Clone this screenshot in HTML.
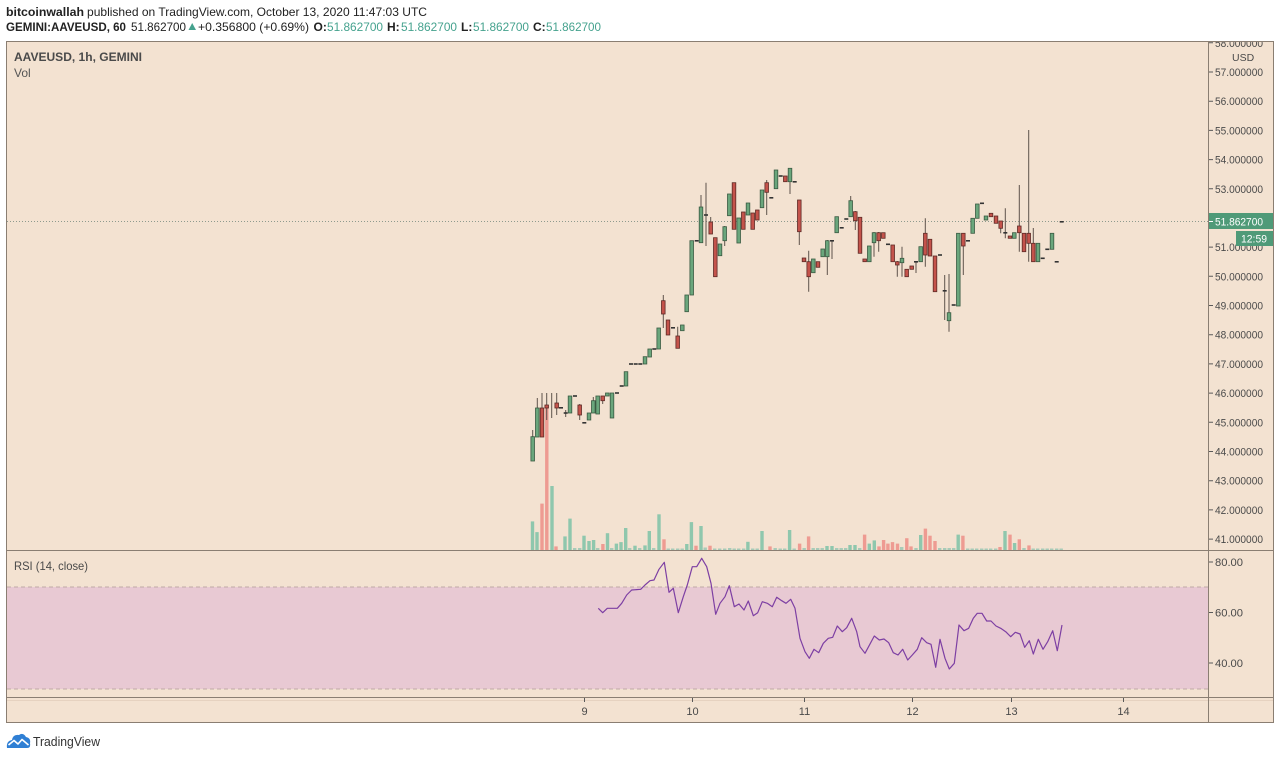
<!DOCTYPE html>
<html><head><meta charset="utf-8">
<style>
html,body{margin:0;padding:0;background:#fff;width:1280px;height:758px;overflow:hidden}
svg{display:block;font-family:"Liberation Sans",Arial,sans-serif}
</style></head>
<body>
<svg width="1280" height="758" viewBox="0 0 1280 758" xmlns="http://www.w3.org/2000/svg">
<rect x="0" y="0" width="1280" height="758" fill="#ffffff"/>
<!-- header -->
<text x="6" y="16" font-size="12" font-weight="bold" fill="#222" textLength="78" lengthAdjust="spacingAndGlyphs">bitcoinwallah</text>
<text x="87" y="16" font-size="12" fill="#222" textLength="340" lengthAdjust="spacingAndGlyphs">published on TradingView.com, October 13, 2020 11:47:03 UTC</text>
<text x="6" y="31" font-size="12" font-weight="bold" fill="#222" textLength="120" lengthAdjust="spacingAndGlyphs">GEMINI:AAVEUSD, 60</text>
<text x="131" y="31" font-size="12" fill="#222" textLength="55" lengthAdjust="spacingAndGlyphs">51.862700</text>
<polygon points="188.5,30 196,30 192.2,23" fill="#45a28e"/>
<text x="198" y="31" font-size="12" fill="#222" textLength="111" lengthAdjust="spacingAndGlyphs">+0.356800 (+0.69%)</text>
<text x="313.5" y="31" font-size="12" font-weight="bold" fill="#222">O:</text>
<text x="327" y="31" font-size="12" fill="#45a28e" textLength="56" lengthAdjust="spacingAndGlyphs">51.862700</text>
<text x="387" y="31" font-size="12" font-weight="bold" fill="#222">H:</text>
<text x="401" y="31" font-size="12" fill="#45a28e" textLength="56" lengthAdjust="spacingAndGlyphs">51.862700</text>
<text x="461" y="31" font-size="12" font-weight="bold" fill="#222">L:</text>
<text x="473" y="31" font-size="12" fill="#45a28e" textLength="56" lengthAdjust="spacingAndGlyphs">51.862700</text>
<text x="533" y="31" font-size="12" font-weight="bold" fill="#222">C:</text>
<text x="546" y="31" font-size="12" fill="#45a28e" textLength="55" lengthAdjust="spacingAndGlyphs">51.862700</text>

<!-- chart background -->
<rect x="6.5" y="41.5" width="1267" height="681" fill="#f3e2d1" stroke="#8a7e72" stroke-width="1"/>
<!-- RSI band -->
<rect x="7" y="587" width="1201" height="102" fill="#e8c9d3"/>
<line x1="7" y1="587" x2="1208" y2="587" stroke="#bfa9a6" stroke-width="1" stroke-dasharray="4,3"/>
<line x1="7" y1="689" x2="1208" y2="689" stroke="#bfa9a6" stroke-width="1" stroke-dasharray="4,3"/>
<!-- pane lines -->
<line x1="6" y1="550.5" x2="1274" y2="550.5" stroke="#8a7e72" stroke-width="1"/>
<line x1="6" y1="697.5" x2="1274" y2="697.5" stroke="#8a7e72" stroke-width="1"/>
<line x1="7" y1="700.5" x2="1273" y2="700.5" stroke="#e6d2c0" stroke-width="1"/>
<line x1="1208.5" y1="41" x2="1208.5" y2="723" stroke="#8a7e72" stroke-width="1"/>

<!-- legends -->
<text x="14" y="61" font-size="12" font-weight="bold" fill="#4a4a4a" textLength="128" lengthAdjust="spacingAndGlyphs">AAVEUSD, 1h, GEMINI</text>
<text x="14" y="77" font-size="12" fill="#555">Vol</text>
<text x="14" y="570" font-size="12" fill="#4a4a4a" textLength="74" lengthAdjust="spacingAndGlyphs">RSI (14, close)</text>

<!-- volume -->
<g fill="#8fc7ad">
<rect x="530.8" y="521.4" width="3.4" height="28.6"/>
<rect x="535.3" y="532.1" width="3.4" height="17.9"/>
<rect x="550.3" y="486" width="3.4" height="64"/>
<rect x="563.3" y="536.4" width="3.4" height="13.6"/>
<rect x="568.3" y="518.6" width="3.4" height="31.4"/>
<rect x="582.3" y="535.7" width="3.4" height="14.3"/>
<rect x="587.3" y="541" width="3.4" height="9"/>
<rect x="591.9" y="540" width="3.4" height="10"/>
<rect x="605.8" y="533.2" width="3.4" height="16.8"/>
<rect x="614.7" y="543.6" width="3.4" height="6.4"/>
<rect x="619.3" y="542.1" width="3.4" height="7.9"/>
<rect x="624" y="528" width="3.4" height="22"/>
<rect x="633.3" y="545.7" width="3.4" height="4.3"/>
<rect x="643.3" y="545.4" width="3.4" height="4.6"/>
<rect x="647.6" y="531" width="3.4" height="19"/>
<rect x="657.3" y="514.3" width="3.4" height="35.7"/>
<rect x="685.1" y="544" width="3.4" height="6"/>
<rect x="689.7" y="522.1" width="3.4" height="27.9"/>
<rect x="699.3" y="526" width="3.4" height="24"/>
<rect x="746.2" y="541.8" width="3.4" height="8.2"/>
<rect x="760.3" y="531" width="3.4" height="19"/>
<rect x="787.9" y="530" width="3.4" height="20"/>
<rect x="825.3" y="546" width="3.4" height="4"/>
<rect x="830.3" y="546" width="3.4" height="4"/>
<rect x="848.3" y="545" width="3.4" height="5"/>
<rect x="853.3" y="545" width="3.4" height="5"/>
<rect x="867.6" y="543.6" width="3.4" height="6.4"/>
<rect x="872.6" y="540.4" width="3.4" height="9.6"/>
<rect x="919" y="535" width="3.4" height="15"/>
<rect x="956.5" y="534.6" width="3.4" height="15.4"/>
<rect x="1003.3" y="531" width="3.4" height="19"/>
<rect x="1012.9" y="543" width="3.4" height="7"/>
</g>
<g fill="#ee9b92">
<rect x="540.3" y="503.6" width="3.4" height="46.4"/>
<rect x="545.1" y="408" width="3.4" height="142"/>
<rect x="554.3" y="546.4" width="3.4" height="3.6"/>
<rect x="601.2" y="544" width="3.4" height="6"/>
<rect x="662.3" y="539.3" width="3.4" height="10.7"/>
<rect x="694.3" y="545.7" width="3.4" height="4.3"/>
<rect x="708.3" y="545.7" width="3.4" height="4.3"/>
<rect x="768.3" y="546.4" width="3.4" height="3.6"/>
<rect x="797.9" y="543.6" width="3.4" height="6.4"/>
<rect x="806.9" y="536.4" width="3.4" height="13.6"/>
<rect x="862.9" y="534.6" width="3.4" height="15.4"/>
<rect x="877.3" y="546.4" width="3.4" height="3.6"/>
<rect x="881.9" y="540" width="3.4" height="10"/>
<rect x="886.2" y="543.6" width="3.4" height="6.4"/>
<rect x="890.8" y="542.1" width="3.4" height="7.9"/>
<rect x="895.8" y="543.6" width="3.4" height="6.4"/>
<rect x="905.1" y="538.2" width="3.4" height="11.8"/>
<rect x="909.3" y="546.4" width="3.4" height="3.6"/>
<rect x="923.7" y="528.6" width="3.4" height="21.4"/>
<rect x="928.3" y="535.7" width="3.4" height="14.3"/>
<rect x="933.3" y="541" width="3.4" height="9"/>
<rect x="961.2" y="535.7" width="3.4" height="14.3"/>
<rect x="998.3" y="547" width="3.4" height="3"/>
<rect x="1008.3" y="534.6" width="3.4" height="15.4"/>
<rect x="1017.6" y="539.3" width="3.4" height="10.7"/>
<rect x="1027.3" y="545.4" width="3.4" height="4.6"/>
</g>
<!-- small baseline volume -->
<g fill="#a8cbb8">
<rect x="573" y="548" width="3.4" height="2"/><rect x="578" y="548" width="3.4" height="2"/>
<rect x="596" y="548" width="3.4" height="2"/><rect x="610" y="548" width="3.4" height="2"/>
<rect x="628" y="548" width="3.4" height="2"/><rect x="638" y="548" width="3.4" height="2"/>
<rect x="652" y="548" width="3.4" height="2"/><rect x="666.5" y="548.5" width="3.4" height="1.5"/>
<rect x="671" y="548.5" width="3.4" height="1.5"/><rect x="676" y="548.5" width="3.4" height="1.5"/>
<rect x="680.5" y="548.5" width="3.4" height="1.5"/><rect x="703.5" y="547.5" width="3.4" height="2.5"/>
<rect x="713" y="548.5" width="3.4" height="1.5"/><rect x="718" y="548.5" width="3.4" height="1.5"/>
<rect x="723" y="548.5" width="3.4" height="1.5"/><rect x="728" y="548" width="3.4" height="2"/>
<rect x="732.5" y="548.5" width="3.4" height="1.5"/><rect x="737" y="548.5" width="3.4" height="1.5"/>
<rect x="742" y="548.5" width="3.4" height="1.5"/><rect x="751" y="548.5" width="3.4" height="1.5"/>
<rect x="755.5" y="548.5" width="3.4" height="1.5"/><rect x="773.5" y="548" width="3.4" height="2"/>
<rect x="778.5" y="548.5" width="3.4" height="1.5"/><rect x="783" y="548.5" width="3.4" height="1.5"/>
<rect x="792.5" y="548.5" width="3.4" height="1.5"/><rect x="802.5" y="548" width="3.4" height="2"/>
<rect x="811.5" y="548" width="3.4" height="2"/><rect x="816" y="548" width="3.4" height="2"/>
<rect x="820.5" y="548" width="3.4" height="2"/><rect x="835" y="548" width="3.4" height="2"/>
<rect x="839.5" y="548" width="3.4" height="2"/><rect x="844" y="548" width="3.4" height="2"/>
<rect x="858" y="548" width="3.4" height="2"/><rect x="900" y="547" width="3.4" height="3"/>
<rect x="914.3" y="548" width="3.4" height="2"/><rect x="938" y="548" width="3.4" height="2"/>
<rect x="943" y="548" width="3.4" height="2"/><rect x="947.5" y="548" width="3.4" height="2"/>
<rect x="952" y="548" width="3.4" height="2"/><rect x="966" y="548.5" width="3.4" height="1.5"/>
<rect x="970.5" y="548.5" width="3.4" height="1.5"/><rect x="975" y="548.5" width="3.4" height="1.5"/>
<rect x="980" y="548.5" width="3.4" height="1.5"/><rect x="984.5" y="548.5" width="3.4" height="1.5"/>
<rect x="989" y="548.5" width="3.4" height="1.5"/><rect x="994" y="548.5" width="3.4" height="1.5"/>
<rect x="1022.3" y="548" width="3.4" height="2"/><rect x="1031.5" y="548.5" width="3.4" height="1.5"/>
<rect x="1036" y="548.5" width="3.4" height="1.5"/><rect x="1041" y="548.5" width="3.4" height="1.5"/>
<rect x="1045.5" y="548.5" width="3.4" height="1.5"/><rect x="1050" y="548.5" width="3.4" height="1.5"/>
<rect x="1055" y="548.5" width="3.4" height="1.5"/><rect x="1059.5" y="548.5" width="3.4" height="1.5"/>
</g>

<!-- current price dotted line -->
<line x1="7" y1="221.5" x2="1208" y2="221.5" stroke="#8e9a8e" stroke-width="1" stroke-dasharray="1,2"/>

<!-- wicks -->
<path stroke="#5e534b" stroke-width="1" fill="none" d="
M532.7 430V461 M537.3 398V437 M542 393V437 M546.7 393V420 M551.7 393V418 M556.7 393V415
M565.7 410V417 M579.7 404V420 M593.3 397V413 M602.7 396V404 M663.3 295V328 M677.7 326.7V348.3
M701 195V243 M706 182.7V246 M710.7 217V234 M724.7 226V246 M766.7 180V215 M790 168V194
M799.3 200V245 M808.7 250.7V291.7 M827.3 240V275 M832 240V259 M850.7 196V217 M855.3 211V230
M874 232V256.7 M878.7 232V251.7 M897.3 261V276.7 M902 246.7V276.7 M916 261V273 M925.3 218.3V266.7
M944.7 275V320 M949 274V331.7 M963.3 233V275 M1000.7 221V233.3 M1005.3 208.3V238.3
M1019.3 185V251.7 M1028.7 130V261.7 M1033.3 228V261.7"/>

<!-- green bodies -->
<g fill="#6aa67c" stroke="#3a5a42" stroke-width="0.8">
<rect x="530.9" y="436.7" width="3.6" height="24.3"/>
<rect x="535.5" y="408" width="3.6" height="29"/>
<rect x="568.2" y="396" width="3.6" height="17"/>
<rect x="587.2" y="413" width="3.6" height="7"/>
<rect x="591.5" y="400.7" width="3.6" height="12.3"/>
<rect x="595.9" y="396" width="3.6" height="18"/>
<rect x="605.5" y="393" width="3.6" height="3"/>
<rect x="610.2" y="393" width="3.6" height="25"/>
<rect x="624.2" y="371.7" width="3.6" height="14.3"/>
<rect x="643.2" y="356.7" width="3.6" height="7.3"/>
<rect x="647.9" y="349" width="3.6" height="8"/>
<rect x="656.9" y="328" width="3.6" height="21"/>
<rect x="680.5" y="325" width="3.6" height="5.7"/>
<rect x="684.9" y="295" width="3.6" height="16.7"/>
<rect x="689.9" y="240.7" width="3.6" height="54.3"/>
<rect x="699.2" y="207" width="3.6" height="35.7"/>
<rect x="718.2" y="244" width="3.6" height="11.7"/>
<rect x="722.9" y="226.7" width="3.6" height="14"/>
<rect x="727.5" y="194" width="3.6" height="21.7"/>
<rect x="736.9" y="218" width="3.6" height="25"/>
<rect x="746.2" y="203" width="3.6" height="12"/>
<rect x="760.2" y="190" width="3.6" height="17.7"/>
<rect x="774.2" y="170" width="3.6" height="18.7"/>
<rect x="788.2" y="168.3" width="3.6" height="13.4"/>
<rect x="811.5" y="259" width="3.6" height="13.7"/>
<rect x="820.9" y="249" width="3.6" height="7.7"/>
<rect x="825.5" y="240.7" width="3.6" height="16"/>
<rect x="834.9" y="216.7" width="3.6" height="16"/>
<rect x="848.9" y="200.7" width="3.6" height="16"/>
<rect x="867.5" y="246" width="3.6" height="15.7"/>
<rect x="872.2" y="232.7" width="3.6" height="10"/>
<rect x="900.2" y="258.3" width="3.6" height="4.4"/>
<rect x="918.9" y="246.7" width="3.6" height="15"/>
<rect x="947.2" y="312.7" width="3.6" height="8"/>
<rect x="956.5" y="233.3" width="3.6" height="72.7"/>
<rect x="970.9" y="218.3" width="3.6" height="15"/>
<rect x="975.5" y="204" width="3.6" height="14.3"/>
<rect x="984.2" y="216" width="3.6" height="4"/>
<rect x="1012.5" y="232.7" width="3.6" height="5.6"/>
<rect x="1036.2" y="243.3" width="3.6" height="18.4"/>
<rect x="1050.2" y="233.3" width="3.6" height="16"/>
</g>
<!-- red bodies -->
<g fill="#c4534b" stroke="#5e2b26" stroke-width="0.8">
<rect x="540.2" y="408" width="3.6" height="29"/>
<rect x="544.9" y="405" width="3.6" height="3"/>
<rect x="554.9" y="403" width="3.6" height="5"/>
<rect x="577.9" y="405" width="3.6" height="10"/>
<rect x="600.9" y="396" width="3.6" height="4.7"/>
<rect x="661.5" y="300.7" width="3.6" height="13.3"/>
<rect x="666.2" y="320" width="3.6" height="15"/>
<rect x="675.9" y="336" width="3.6" height="12.3"/>
<rect x="708.9" y="222" width="3.6" height="12"/>
<rect x="713.5" y="237.7" width="3.6" height="39"/>
<rect x="732.2" y="182.7" width="3.6" height="46.6"/>
<rect x="741.5" y="212" width="3.6" height="17.3"/>
<rect x="750.9" y="213" width="3.6" height="16.3"/>
<rect x="755.5" y="210" width="3.6" height="10"/>
<rect x="764.9" y="182.7" width="3.6" height="9.6"/>
<rect x="783.5" y="176" width="3.6" height="5.7"/>
<rect x="797.5" y="200" width="3.6" height="31.7"/>
<rect x="802.2" y="258" width="3.6" height="3.7"/>
<rect x="806.9" y="261.7" width="3.6" height="15"/>
<rect x="816.2" y="261.7" width="3.6" height="5.6"/>
<rect x="853.5" y="211.7" width="3.6" height="9"/>
<rect x="858.2" y="217.3" width="3.6" height="36"/>
<rect x="862.9" y="259" width="3.6" height="2.7"/>
<rect x="876.9" y="232.7" width="3.6" height="8"/>
<rect x="881.5" y="232.7" width="3.6" height="5.6"/>
<rect x="890.9" y="245" width="3.6" height="16.7"/>
<rect x="895.5" y="261.7" width="3.6" height="3.3"/>
<rect x="904.9" y="269.3" width="3.6" height="7.4"/>
<rect x="909.9" y="266" width="3.6" height="3.3"/>
<rect x="923.5" y="233.3" width="3.6" height="21.7"/>
<rect x="928.2" y="239.3" width="3.6" height="16.7"/>
<rect x="933.2" y="256" width="3.6" height="35.7"/>
<rect x="961.5" y="233.3" width="3.6" height="12.7"/>
<rect x="989.2" y="213.3" width="3.6" height="3.4"/>
<rect x="994.2" y="216" width="3.6" height="7.3"/>
<rect x="998.9" y="221" width="3.6" height="7.3"/>
<rect x="1008.2" y="236" width="3.6" height="2.3"/>
<rect x="1017.5" y="226" width="3.6" height="6.7"/>
<rect x="1022.2" y="233.3" width="3.6" height="18.4"/>
<rect x="1026.9" y="233.3" width="3.6" height="10"/>
<rect x="1031.5" y="243.3" width="3.6" height="18.4"/>
</g>
<!-- doji dashes -->
<g fill="#333">
<rect x="559" y="407" width="4" height="1.6"/>
<rect x="563.7" y="412.2" width="4" height="1.6"/>
<rect x="573" y="395.2" width="4" height="1.6"/>
<rect x="582.3" y="422" width="4" height="1.6"/>
<rect x="615" y="392.2" width="4" height="1.6"/>
<rect x="619.7" y="385.2" width="4" height="1.6"/>
<rect x="629" y="363.2" width="4" height="1.6"/>
<rect x="633.7" y="363.2" width="4" height="1.6"/>
<rect x="638.3" y="363.2" width="4" height="1.6"/>
<rect x="652.3" y="348.2" width="4" height="1.6"/>
<rect x="671" y="327" width="4" height="1.6"/>
<rect x="694.7" y="240" width="4" height="1.6"/>
<rect x="704" y="214.2" width="4" height="1.6"/>
<rect x="769.3" y="197" width="4" height="1.6"/>
<rect x="778.7" y="175.2" width="4" height="1.6"/>
<rect x="792.7" y="181" width="4" height="1.6"/>
<rect x="830" y="240" width="4" height="1.6"/>
<rect x="839.7" y="227" width="4" height="1.6"/>
<rect x="844.3" y="218.2" width="4" height="1.6"/>
<rect x="886" y="243.5" width="4" height="1.6"/>
<rect x="914" y="261" width="4" height="1.6"/>
<rect x="938" y="254.2" width="4" height="1.6"/>
<rect x="942.7" y="290" width="4" height="1.6"/>
<rect x="951.7" y="304.2" width="4" height="1.6"/>
<rect x="966" y="240" width="4" height="1.6"/>
<rect x="980" y="202.5" width="4" height="1.6"/>
<rect x="1003.3" y="232" width="4" height="1.6"/>
<rect x="1040.7" y="257.5" width="4" height="1.6"/>
<rect x="1045.3" y="248.5" width="4" height="1.6"/>
<rect x="1054.7" y="261" width="4" height="1.6"/>
<rect x="1059.7" y="221" width="4" height="1.6"/>
</g>

<!-- RSI line -->
<polyline fill="none" stroke="#7d3fa3" stroke-width="1.2" stroke-linejoin="round" points="
598.3,608.3 602.7,612.7 607.3,608.3 617.3,608.3 621.7,603.3 626.7,595 631.7,590 640.7,589.3 645,585 650,580.7 654,580 659,569.3 664.3,562.3 669,592.3 673.3,588.3 678.3,612.7 683.3,596.7 687.3,585 692.3,566.7 696.7,566.7 701.7,558.3 706.7,566.7 711,583.3 715.7,614.3 720,603.3 725,596.7 729.3,585.7 734.3,606.7 739,604 744,610 748.3,601 753.3,615.7 757.7,612.7 762.3,601.7 767.3,603.3 772.3,606.7 776.7,597.3 781.7,600.7 786,603.3 790.7,599.3 795,608.3 800,638.3 805,651.7 809.3,658.3 814,649.3 818.7,652.7 823.3,643.3 828.3,638.3 832.7,637.3 837.3,626 842.3,631.7 846.7,627.7 851.7,618.3 856.7,631.7 860,646.7 865,653.3 874.3,636 879.3,640 884,639 888.7,642.7 893.3,652.7 898,655 902.7,649.3 907.7,660 912.3,655 917.3,649.3 921.7,637.7 926.7,642.7 931,644.3 935.7,667.3 940,639.3 945,658.3 949.3,669 954.3,663.3 959,625 964,630.7 968.7,628.3 973.3,618.3 977.3,613.3 982,613.3 986.7,621 991,621 996,626 1000.7,628.3 1005.7,631.7 1010.7,636.7 1015.3,632.3 1020,634 1024.7,647.3 1029.3,640.7 1033.3,654 1038.3,639.3 1043,649.3 1047.7,641.7 1052.7,630.7 1057.3,650.7 1062,625"/>

<!-- price axis -->
<defs><clipPath id="ax"><rect x="1209" y="42" width="64" height="508"/></clipPath></defs>
<g clip-path="url(#ax)" font-size="11" fill="#4a4a4a">
<path stroke="#5a5a5a" stroke-width="1" d="M1209 42.8H1213 M1209 72H1213 M1209 101.2H1213 M1209 130.4H1213 M1209 159.6H1213 M1209 188.8H1213 M1209 247.1H1213 M1209 276.3H1213 M1209 305.5H1213 M1209 334.7H1213 M1209 363.9H1213 M1209 393.1H1213 M1209 422.3H1213 M1209 451.5H1213 M1209 480.7H1213 M1209 509.9H1213 M1209 539.1H1213"/>
<text x="1215" y="46.8" textLength="48" lengthAdjust="spacingAndGlyphs">58.000000</text>
<text x="1232" y="61" font-size="10.5">USD</text>
<text x="1215" y="76" textLength="48" lengthAdjust="spacingAndGlyphs">57.000000</text>
<text x="1215" y="105.2" textLength="48" lengthAdjust="spacingAndGlyphs">56.000000</text>
<text x="1215" y="134.4" textLength="48" lengthAdjust="spacingAndGlyphs">55.000000</text>
<text x="1215" y="163.6" textLength="48" lengthAdjust="spacingAndGlyphs">54.000000</text>
<text x="1215" y="192.8" textLength="48" lengthAdjust="spacingAndGlyphs">53.000000</text>
<text x="1215" y="251.1" textLength="48" lengthAdjust="spacingAndGlyphs">51.000000</text>
<text x="1215" y="280.3" textLength="48" lengthAdjust="spacingAndGlyphs">50.000000</text>
<text x="1215" y="309.5" textLength="48" lengthAdjust="spacingAndGlyphs">49.000000</text>
<text x="1215" y="338.7" textLength="48" lengthAdjust="spacingAndGlyphs">48.000000</text>
<text x="1215" y="367.9" textLength="48" lengthAdjust="spacingAndGlyphs">47.000000</text>
<text x="1215" y="397.1" textLength="48" lengthAdjust="spacingAndGlyphs">46.000000</text>
<text x="1215" y="426.3" textLength="48" lengthAdjust="spacingAndGlyphs">45.000000</text>
<text x="1215" y="455.5" textLength="48" lengthAdjust="spacingAndGlyphs">44.000000</text>
<text x="1215" y="484.7" textLength="48" lengthAdjust="spacingAndGlyphs">43.000000</text>
<text x="1215" y="513.9" textLength="48" lengthAdjust="spacingAndGlyphs">42.000000</text>
<text x="1215" y="543.1" textLength="48" lengthAdjust="spacingAndGlyphs">41.000000</text>
</g>
<!-- price labels -->
<rect x="1209" y="213" width="64" height="16" fill="#4f9a78"/>
<path stroke="#ffffff" stroke-width="1" d="M1209 221.5H1213"/>
<text x="1215" y="225.3" font-size="11" fill="#ffffff" textLength="48" lengthAdjust="spacingAndGlyphs">51.862700</text>
<rect x="1236" y="231" width="37" height="15" fill="#4f9a78"/>
<text x="1241" y="242.5" font-size="11" fill="#ffffff" textLength="26" lengthAdjust="spacingAndGlyphs">12:59</text>

<!-- RSI axis -->
<g font-size="11" fill="#4a4a4a">
<path stroke="#5a5a5a" stroke-width="1" d="M1209 562H1213 M1209 612.5H1213 M1209 663H1213"/>
<text x="1215" y="566" textLength="28" lengthAdjust="spacingAndGlyphs">80.00</text>
<text x="1215" y="616.5" textLength="28" lengthAdjust="spacingAndGlyphs">60.00</text>
<text x="1215" y="667" textLength="28" lengthAdjust="spacingAndGlyphs">40.00</text>
</g>

<!-- time axis -->
<g font-size="11" fill="#4a4a4a" text-anchor="middle">
<path stroke="#5a5a5a" stroke-width="1" d="M584.5 698V702 M692.5 698V702 M804.5 698V702 M912.5 698V702 M1011.5 698V702 M1123.5 698V702"/>
<text x="584.5" y="715">9</text>
<text x="692.5" y="715">10</text>
<text x="804.5" y="715">11</text>
<text x="912.5" y="715">12</text>
<text x="1011.5" y="715">13</text>
<text x="1123.5" y="715">14</text>
</g>

<!-- TradingView logo -->
<g>
<path d="M7 748 Q6 741 12 740 Q13 734 19 735 Q23 732 26 737 Q31 738 30 743 Q31 748 27 748 Z" fill="#2f7fd4"/>
<path d="M8.5 745 L14 740.5 L18 744 L22 739.5 L28.5 745" fill="none" stroke="#ffffff" stroke-width="1.6" stroke-linejoin="round"/>
<text x="33" y="746" font-size="13" fill="#333" textLength="67" lengthAdjust="spacingAndGlyphs">TradingView</text>
</g>
</svg>
</body></html>
